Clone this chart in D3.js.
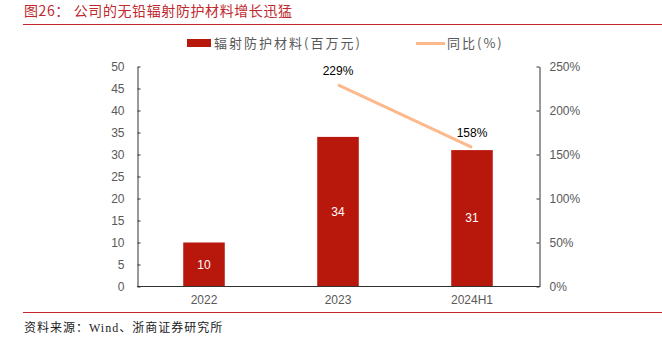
<!DOCTYPE html>
<html>
<head>
<meta charset="utf-8">
<script src="https://cdn.jsdelivr.net/npm/d3@7"></script>
<style>
  html, body { margin: 0; padding: 0; background: #fff; }
  svg { display: block; }
</style>
</head>
<body>
<svg id="chart" width="662" height="341"></svg>
<script>
// Data
const categories = ["2022", "2023", "2024H1"];
const revenue = [10, 34, 31];            // 辐射防护材料(百万元)
const yoyCats = ["2023", "2024H1"];
const yoy = [229, 158];                  // 同比(%)
const leftTicks = [0, 5, 10, 15, 20, 25, 30, 35, 40, 45, 50];
const rightTicks = [0, 50, 100, 150, 200, 250];

const svg = d3.select("#chart");
const red = "#B8180C";
const peach = "#FBB98C";
const grey = "#595959";
const font = "Arial, 'Liberation Sans', 'Noto Sans CJK SC', sans-serif";
const cjk = "'Noto Sans CJK SC', sans-serif";

// Title and rules
svg.append("text").attr("x", 24).attr("y", 16)
  .attr("fill", "#C0282E").attr("font-family", cjk).attr("font-size", 14)
  .attr("letter-spacing", 0.6)
  .text("图26：  公司的无铅辐射防护材料增长迅猛");
svg.append("line").attr("x1", 23).attr("x2", 662).attr("y1", 24.5).attr("y2", 24.5)
  .attr("stroke", "#C0282E").attr("stroke-width", 1);
svg.append("line").attr("x1", 23).attr("x2", 662).attr("y1", 312.5).attr("y2", 312.5)
  .attr("stroke", "#C0282E").attr("stroke-width", 1);
svg.append("text").attr("x", 24).attr("y", 332)
  .attr("fill", "#222").attr("font-family", "'Liberation Serif', " + cjk).attr("font-size", 12)
  .attr("letter-spacing", 1)
  .text("资料来源：Wind、浙商证券研究所");

// Scales
const x = d3.scaleBand().domain(categories).range([137, 539]).paddingInner(0.69).paddingOuter(0.345);
const yL = d3.scaleLinear().domain([0, 50]).range([286.5, 66.5]);
const yR = d3.scaleLinear().domain([0, 250]).range([286.5, 66.5]);

// Bars
svg.append("g").selectAll("rect").data(revenue).join("rect")
  .attr("x", (d, i) => x(categories[i]))
  .attr("width", x.bandwidth())
  .attr("y", d => yL(d))
  .attr("height", d => yL(0) - yL(d))
  .attr("fill", red);

svg.append("g").selectAll("text").data(revenue).join("text")
  .attr("x", (d, i) => x(categories[i]) + x.bandwidth() / 2)
  .attr("y", d => (yL(d) + yL(0)) / 2 + 4)
  .attr("text-anchor", "middle").attr("fill", "#fff")
  .attr("font-family", font).attr("font-size", 12)
  .text(d => d);

// Axes
const axisStyle = g => {
  g.select(".domain").attr("stroke", "#333").attr("stroke-width", 1);
  g.selectAll(".tick line").attr("stroke", "#333");
  g.selectAll(".tick text").attr("fill", grey).attr("font-family", font).attr("font-size", 12);
};
svg.append("g").attr("transform", "translate(137.5,0)")
  .call(d3.axisLeft(yL).tickValues(leftTicks).tickSizeInner(-3).tickSizeOuter(0).tickPadding(13))
  .call(axisStyle);
svg.append("g").attr("transform", "translate(539.5,0)")
  .call(d3.axisRight(yR).tickValues(rightTicks).tickSizeInner(-3).tickSizeOuter(0).tickPadding(13)
    .tickFormat(d => d + "%"))
  .call(axisStyle)
  .call(g => g.selectAll(".tick text").attr("x", 10));
svg.append("g").attr("transform", "translate(0,286.5)")
  .call(d3.axisBottom(x).tickSize(0).tickPadding(9))
  .call(axisStyle)
  .call(g => g.select(".domain").attr("d", "M137,0H540"));

// Growth line
const line = d3.line().x((d, i) => x(yoyCats[i]) + x.bandwidth() / 2).y(d => yR(d));
svg.append("path").datum(yoy).attr("d", line)
  .attr("fill", "none").attr("stroke", peach).attr("stroke-width", 3);
svg.append("g").selectAll("text").data(yoy).join("text")
  .attr("x", (d, i) => x(yoyCats[i]) + x.bandwidth() / 2)
  .attr("y", d => yR(d) - 10)
  .attr("text-anchor", "middle").attr("fill", "#000")
  .attr("font-family", font).attr("font-size", 12)
  .text(d => d + "%");

// Legend
const lg = svg.append("g").attr("font-family", cjk).attr("font-size", 13).attr("fill", grey);
lg.append("rect").attr("x", 187).attr("y", 39).attr("width", 24).attr("height", 8).attr("fill", red);
lg.append("text").attr("x", 214).attr("y", 48).attr("fill", grey).attr("letter-spacing", 2)
  .text("辐射防护材料(百万元)");
lg.append("line").attr("x1", 416).attr("x2", 445).attr("y1", 43.5).attr("y2", 43.5)
  .attr("stroke", peach).attr("stroke-width", 3);
lg.append("text").attr("x", 447).attr("y", 48).attr("fill", grey).attr("letter-spacing", 2)
  .text("同比(%)");
</script>
</body>
</html>
